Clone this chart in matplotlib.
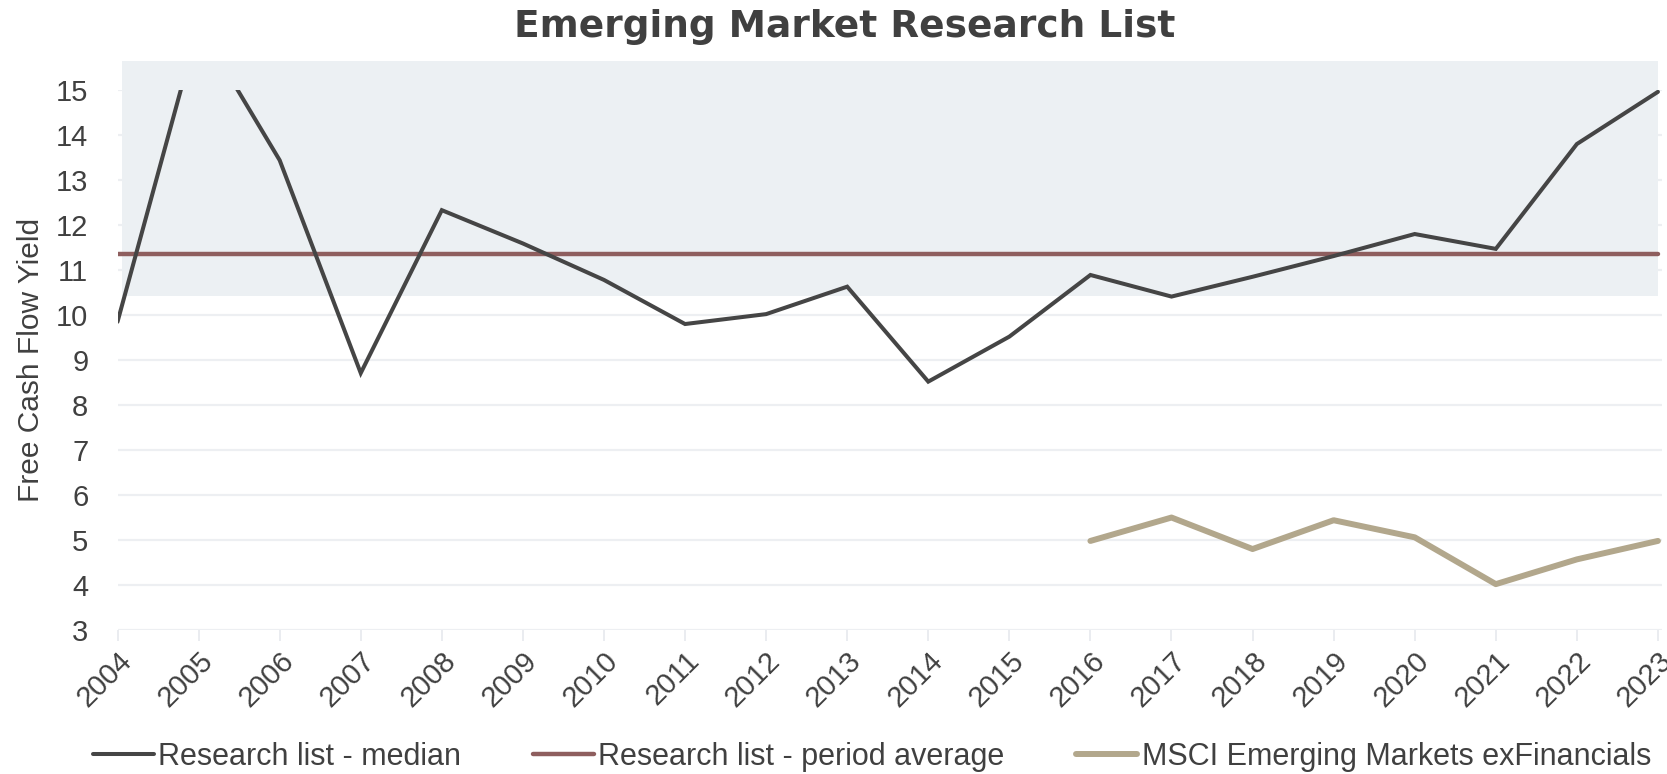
import matplotlib
matplotlib.use("Agg")
import matplotlib.pyplot as plt
from matplotlib.patches import Rectangle

# data
years = list(range(2004, 2024))
median = [9.85, 16.45, 13.44, 8.71, 12.33, 11.59, 10.78, 9.80, 10.02, 10.63,
          8.52, 9.52, 10.89, 10.41, 10.85, 11.31, 11.80, 11.47, 13.80, 14.96]
period_avg = 11.36
msci_years = list(range(2016, 2024))
msci = [4.98, 5.50, 4.80, 5.44, 5.06, 4.02, 4.57, 4.98]

# shaded band behind the lines
band_lo, band_hi = 10.42, 15.65

txt = "#404040"
plt.rcParams['font.family'] = ['Liberation Sans', 'DejaVu Sans']

fig = plt.figure(figsize=(16.67, 7.74), dpi=100)
ax = fig.add_axes([0.0705, 0.186, 0.9265, 0.6977])

ax.add_patch(Rectangle((2004.06, band_lo), 2023 - 2004.06, band_hi - band_lo,
                       facecolor="#ECF0F3", edgecolor="none", zorder=0.8, clip_on=False))

ax.plot(years, median, color="#454545", lw=2.9, solid_capstyle="round",
        solid_joinstyle="miter", label="Research list - median", zorder=3)
ax.plot([years[0], years[-1]], [period_avg, period_avg], color="#8E5E5E", lw=3.2,
        solid_capstyle="round", label="Research list - period average", zorder=2)
ax.plot(msci_years, msci, color="#B2A78C", lw=4.3, solid_capstyle="round",
        label="MSCI Emerging Markets exFinancials", zorder=2)

ax.set_xlim(2004, 2023.05)
ax.set_ylim(3, 15)
ax.set_yticks(range(3, 16))
ax.set_xticks(years)
ax.set_xticklabels([str(y) for y in years], rotation=45, ha="right",
                   rotation_mode="anchor")
ax.tick_params(axis="x", length=8, width=1.2, color="#E6E9ED", labelsize=21,
               labelcolor=txt, pad=4)
ax.tick_params(axis="y", length=0, labelsize=21, labelcolor=txt, pad=21)

for s in ax.spines.values():
    s.set_visible(False)
ax.set_axisbelow(True)
ax.grid(axis="y", color="#EDEFF2", lw=1.6)

ax.set_ylabel("Free Cash Flow Yield", fontsize=21.5, color=txt)
ax.yaxis.set_label_coords(-0.047, 0.5)

fig.text(0.507, 0.965, "Emerging Market Research List", ha="center", va="center",
         fontsize=27, fontweight="bold", color=txt, family=["DejaVu Sans"])

fig.legend(loc="center", bbox_to_anchor=(0.523, 0.022), ncol=3, frameon=False,
           fontsize=22, labelcolor=txt, handlelength=2.0, handletextpad=0.14,
           columnspacing=2.35)

fig.savefig("out.png", dpi=100)
